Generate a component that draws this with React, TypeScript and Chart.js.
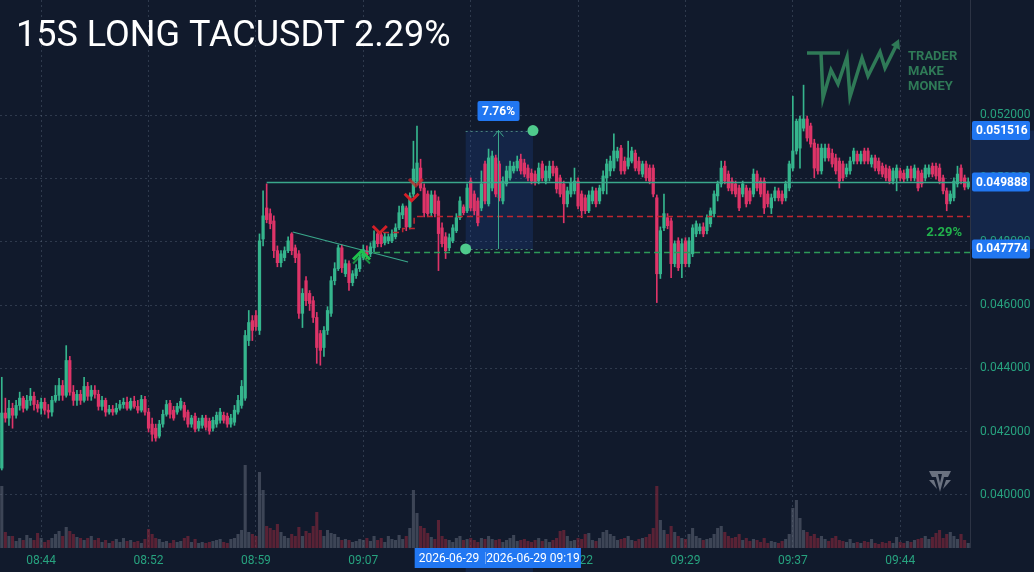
import React, { useEffect, useRef } from "react";
import { Chart, registerables } from "chart.js";

Chart.register(...registerables);

// ---------------- DATA ----------------
// prices are stored in units of 0.00001 USDT
const PRICE_UNIT = 1e-5;
const START_TIME = "08:41:45";
const BAR_SECONDS = 15;
const TICK_INDEX = [11, 41, 71, 101, 131, 161, 191, 221, 251];
const PRICE_TICKS = [0.04, 0.042, 0.044, 0.046, 0.048, 0.05, 0.052];

const OPEN = [
  4085, 4259, 4243, 4274, 4252, 4283, 4306, 4274, 4299, 4312,
  4286, 4274, 4293, 4268, 4262, 4299, 4315, 4346, 4315, 4425,
  4325, 4299, 4318, 4299, 4343, 4312, 4331, 4318, 4280, 4299,
  4262, 4271, 4262, 4274, 4286, 4293, 4274, 4296, 4280, 4268,
  4302, 4262, 4224, 4211, 4186, 4224, 4255, 4290, 4268, 4262,
  4274, 4283, 4262, 4224, 4249, 4211, 4220, 4243, 4233, 4211,
  4224, 4236, 4252, 4249, 4224, 4230, 4262, 4283, 4306, 4488,
  4551, 4567, 4520, 4809, 4907, 4889, 4866, 4772, 4734, 4750,
  4772, 4825, 4781, 4762, 4574, 4677, 4637, 4614, 4561, 4510,
  4466, 4520, 4574, 4677, 4715, 4781, 4699, 4731, 4671, 4693,
  4715, 4750, 4772, 4762, 4781, 4825, 4822, 4797, 4803, 4803,
  4816, 4844, 4885, 4907, 4847, 4951, 4992, 5033, 4970, 4951,
  4892, 4948, 4929, 4844, 4816, 4781, 4803, 4835, 4876, 4910,
  4898, 4992, 4951, 4929, 4907, 5046, 4920, 4970, 5065, 5046,
  4929, 4983, 5002, 5024, 5033, 5061, 5049, 5033, 5017, 5014,
  4992, 5046, 4992, 5002, 5039, 5033, 5002, 4983, 4920, 4951,
  4961, 4992, 4951, 4939, 4898, 4929, 4961, 4929, 4961, 5002,
  5024, 5033, 5065, 5096, 5055, 5039, 5055, 5080, 5055, 5014,
  5046, 5033, 5033, 4939, 4699, 4844, 4876, 4866, 4731, 4803,
  4731, 4803, 4731, 4762, 4825, 4835, 4847, 4835, 4857, 4889,
  4945, 4983, 5039, 5014, 4992, 4983, 4970, 4951, 4970, 4961,
  4951, 5014, 4992, 4992, 4951, 4907, 4939, 4961, 4951, 4939,
  4970, 5033, 5087, 5096, 5159, 5188, 5166, 5112, 5096, 5024,
  5065, 5096, 5080, 5065, 5055, 5046, 5014, 5024, 5055, 5077,
  5055, 5087, 5087, 5046, 5065, 5055, 5039, 5033, 5030, 4992,
  5002, 5024, 5017, 5002, 5030, 5002, 5024, 5017, 5002, 5014,
  5039, 5039, 5033, 5002, 4961, 4929, 4939, 4983, 5033, 5002,
  4973,
];

const HIGH = [
  4372, 4306, 4299, 4290, 4299, 4325, 4312, 4315, 4337, 4325,
  4299, 4306, 4306, 4286, 4312, 4346, 4369, 4362, 4472, 4438,
  4346, 4331, 4331, 4372, 4356, 4346, 4346, 4331, 4312, 4306,
  4283, 4283, 4290, 4299, 4306, 4309, 4306, 4312, 4299, 4315,
  4312, 4274, 4243, 4224, 4236, 4268, 4299, 4299, 4280, 4290,
  4306, 4293, 4268, 4252, 4259, 4243, 4252, 4252, 4243, 4246,
  4262, 4274, 4262, 4259, 4255, 4283, 4315, 4362, 4520, 4583,
  4567, 4583, 4825, 4961, 4983, 4904, 4882, 4787, 4772, 4784,
  4816, 4829, 4790, 4772, 4652, 4690, 4646, 4627, 4577, 4520,
  4532, 4595, 4690, 4734, 4790, 4790, 4743, 4740, 4709, 4728,
  4762, 4790, 4787, 4797, 4835, 4835, 4832, 4829, 4825, 4838,
  4857, 4913, 4920, 4913, 4955, 5118, 5166, 5061, 4983, 4961,
  4961, 4961, 4942, 4860, 4829, 4825, 4854, 4889, 4942, 4917,
  4983, 5002, 4961, 4939, 5024, 5055, 5093, 5087, 5074, 5055,
  5005, 5039, 5055, 5052, 5071, 5077, 5061, 5043, 5030, 5024,
  5049, 5055, 5039, 5055, 5055, 5039, 5011, 4992, 4973, 5002,
  5033, 5002, 4961, 4948, 4961, 4973, 4970, 4979, 5024, 5061,
  5071, 5141, 5099, 5105, 5068, 5118, 5099, 5090, 5068, 5055,
  5055, 5043, 5043, 4948, 4847, 4951, 4889, 4876, 4803, 4813,
  4809, 4813, 4813, 4854, 4866, 4857, 4860, 4885, 4907, 4961,
  4992, 5055, 5055, 5024, 5002, 4992, 4979, 4992, 4979, 4970,
  5030, 5024, 5002, 5002, 4961, 4951, 4973, 4970, 4961, 4992,
  5055, 5260, 5188, 5197, 5295, 5197, 5175, 5124, 5109, 5109,
  5109, 5109, 5093, 5077, 5065, 5055, 5046, 5068, 5096, 5087,
  5087, 5096, 5096, 5074, 5074, 5065, 5049, 5043, 5039, 5033,
  5043, 5033, 5027, 5039, 5039, 5043, 5033, 5027, 5043, 5043,
  5049, 5049, 5046, 5011, 4970, 4961, 5002, 5039, 5043, 5011,
  5002,
];

const LOW = [
  4079, 4230, 4220, 4211, 4243, 4268, 4262, 4268, 4283, 4268,
  4262, 4255, 4255, 4243, 4249, 4293, 4299, 4299, 4309, 4315,
  4283, 4283, 4286, 4293, 4299, 4299, 4306, 4268, 4268, 4249,
  4255, 4252, 4255, 4268, 4274, 4268, 4268, 4274, 4259, 4262,
  4252, 4199, 4170, 4170, 4180, 4214, 4249, 4243, 4236, 4255,
  4268, 4236, 4214, 4214, 4199, 4202, 4211, 4205, 4192, 4202,
  4214, 4227, 4227, 4214, 4214, 4220, 4255, 4274, 4299, 4472,
  4488, 4520, 4507, 4787, 4860, 4841, 4750, 4721, 4721, 4740,
  4766, 4759, 4734, 4558, 4529, 4598, 4583, 4545, 4416, 4410,
  4438, 4507, 4564, 4664, 4709, 4703, 4690, 4646, 4661, 4684,
  4706, 4743, 4747, 4753, 4769, 4784, 4784, 4790, 4794, 4797,
  4809, 4838, 4873, 4835, 4841, 4942, 4979, 4961, 4879, 4879,
  4882, 4879, 4709, 4784, 4747, 4772, 4797, 4829, 4870, 4885,
  4892, 4898, 4885, 4850, 4898, 4920, 4913, 4961, 4942, 4929,
  4920, 4976, 4995, 5017, 5024, 5014, 5005, 4992, 4983, 4979,
  4983, 4992, 4983, 4992, 5008, 4954, 4942, 4860, 4910, 4942,
  4951, 4904, 4876, 4889, 4892, 4920, 4910, 4920, 4951, 4951,
  5008, 5024, 5055, 5014, 5014, 5030, 5049, 5024, 5014, 5005,
  4992, 4983, 4942, 4608, 4684, 4835, 4841, 4687, 4721, 4709,
  4687, 4721, 4721, 4753, 4816, 4825, 4816, 4825, 4847, 4879,
  4929, 4973, 4983, 4961, 4951, 4942, 4898, 4942, 4910, 4920,
  4942, 4961, 4942, 4889, 4910, 4889, 4929, 4929, 4920, 4929,
  4961, 5024, 5077, 5033, 5150, 5118, 5099, 5002, 5014, 5014,
  5055, 5055, 5036, 5014, 4970, 4992, 5005, 5014, 5046, 5046,
  5046, 5046, 5046, 5036, 5024, 5014, 5005, 4992, 4983, 4983,
  4961, 4992, 4989, 4992, 4992, 4992, 4961, 4973, 4992, 5005,
  5005, 4998, 4983, 4951, 4898, 4920, 4929, 4973, 4983, 4964,
  4967,
];

const CLOSE = [
  4259, 4243, 4274, 4252, 4283, 4306, 4274, 4299, 4312, 4286,
  4274, 4293, 4268, 4262, 4299, 4315, 4346, 4315, 4425, 4325,
  4299, 4318, 4299, 4343, 4312, 4331, 4318, 4280, 4299, 4262,
  4271, 4262, 4274, 4286, 4293, 4274, 4296, 4280, 4268, 4302,
  4262, 4211, 4192, 4180, 4224, 4255, 4286, 4255, 4243, 4280,
  4296, 4246, 4224, 4243, 4208, 4233, 4243, 4214, 4202, 4236,
  4252, 4262, 4236, 4224, 4243, 4268, 4299, 4343, 4504, 4545,
  4520, 4532, 4803, 4882, 4870, 4857, 4772, 4734, 4762, 4772,
  4803, 4772, 4750, 4574, 4637, 4614, 4605, 4561, 4466, 4457,
  4520, 4583, 4677, 4715, 4781, 4718, 4731, 4671, 4699, 4715,
  4750, 4775, 4759, 4784, 4803, 4794, 4794, 4816, 4816, 4825,
  4844, 4892, 4913, 4847, 4945, 5030, 5049, 4970, 4892, 4889,
  4948, 4889, 4826, 4794, 4772, 4813, 4844, 4876, 4929, 4892,
  4970, 4907, 4898, 4860, 4983, 4929, 5065, 5071, 4951, 4939,
  4992, 5024, 5039, 5039, 5055, 5024, 5014, 5002, 4992, 4989,
  5033, 5002, 5024, 5039, 5017, 4967, 4951, 4920, 4961, 4986,
  4992, 4913, 4898, 4898, 4948, 4961, 4920, 4970, 5008, 5046,
  5055, 5087, 5087, 5024, 5024, 5065, 5087, 5033, 5024, 5046,
  5002, 4992, 4951, 4699, 4835, 4889, 4851, 4731, 4794, 4718,
  4794, 4731, 4803, 4844, 4857, 4847, 4825, 4876, 4898, 4951,
  4983, 5033, 4992, 4970, 4961, 4951, 4907, 4983, 4920, 4929,
  5014, 4970, 4951, 4907, 4920, 4939, 4961, 4939, 4929, 4983,
  5046, 5087, 5181, 5188, 5188, 5128, 5109, 5033, 5024, 5096,
  5096, 5065, 5046, 5024, 4992, 5002, 5033, 5055, 5087, 5055,
  5077, 5055, 5055, 5065, 5033, 5024, 5014, 5002, 4992, 5024,
  5033, 5002, 4998, 5030, 5002, 5033, 4970, 4983, 5033, 5033,
  5014, 5008, 4992, 4961, 4920, 4951, 4992, 5014, 4992, 4973,
  4989,
];

// volume in thousands of TAC
const VOLUME = [
  62, 16, 12, 12, 7, 10, 8, 13, 10, 8,
  15, 10, 6, 8, 10, 14, 17, 12, 21, 17,
  14, 11, 10, 8, 10, 12, 8, 10, 6, 8,
  5, 7, 9, 6, 10, 7, 8, 6, 7, 5,
  9, 19, 14, 10, 9, 6, 7, 5, 8, 6,
  7, 10, 12, 6, 9, 5, 6, 5, 6, 7,
  8, 9, 6, 5, 9, 10, 14, 18, 83, 16,
  14, 12, 76, 58, 22, 20, 18, 24, 16, 12,
  10, 14, 12, 21, 12, 17, 15, 22, 36, 18,
  12, 18, 15, 14, 11, 8, 9, 8, 6, 7,
  9, 8, 10, 7, 12, 8, 10, 6, 12, 9,
  8, 13, 9, 12, 20, 58, 35, 22, 20, 15,
  11, 9, 28, 12, 9, 8, 6, 10, 12, 8,
  9, 10, 8, 6, 10, 9, 12, 9, 8, 9,
  6, 8, 10, 13, 7, 8, 9, 7, 6, 8,
  10, 7, 9, 6, 8, 10, 17, 18, 12, 7,
  8, 10, 9, 14, 15, 8, 7, 10, 16, 18,
  14, 12, 8, 9, 10, 12, 8, 7, 9, 10,
  11, 14, 20, 62, 28, 18, 14, 22, 16, 12,
  10, 9, 14, 20, 12, 10, 8, 9, 10, 14,
  20, 22, 16, 12, 10, 11, 14, 8, 10, 7,
  9, 8, 6, 10, 5, 7, 6, 5, 7, 9,
  14, 40, 48, 30, 18, 16, 12, 14, 10, 12,
  9, 7, 10, 12, 8, 7, 6, 9, 5, 6,
  5, 7, 6, 9, 5, 4, 6, 5, 7, 5,
  11, 6, 5, 7, 6, 8, 9, 10, 12, 9,
  11, 15, 18, 10, 14, 16, 12, 9, 14, 8,
  5,
];

// trade / drawing values (in price and bar-index coordinates)
const TITLE = "15S LONG TACUSDT 2.29%";
const TAKE_PROFIT = 0.051516;
const LEVEL_PRICE = 0.049888;
const ENTRY_PRICE = 0.047774;
const LEVEL_START = 74;
const BOX_START = 129.6;
const BOX_END = 148.4;
const ARROW_INDEX = 138.6;
const BOX_PCT = "7.76%";
const RESULT_PCT = "2.29%";
const STOP_IDX = [106.5, 112, 112, 115.2, 115.2, 270.5];
const STOP_PRICE = [0.04831, 0.04831, 0.04845, 0.04845, 0.0488, 0.0488];
const ENTRY_LINE_START = 104;
const ENTRY_LINE_PRICE = 0.047678;
const TREND_IDX = [81.3, 113.5];
const TREND_PRICE = [0.04831, 0.047362];
const BUY_IDX = [100.5];
const BUY_PRICE = [0.047709];
const SELL_IDX = [105.6, 114.5, 115.7];
const SELL_PRICE = [0.048278, 0.049299, 0.049763];
const DATE_LABELS = ["2026-06-29 09:14", "2026-06-29 09:19"];

const Y_MIN = 0.0383254;
const Y_MAX = 0.0556398;
const VOL_AXIS_MAX = 548;

// ---------------- STYLE ----------------
const FONT = "Roboto, 'Noto Sans', sans-serif";
const BG = "#111a2c";
const UP = "#35b58d";
const DOWN = "#de3468";
const UP_VOL = "rgba(98,106,122,0.55)";
const DOWN_VOL = "rgba(150,42,62,0.55)";
const AXIS_TEXT = "#27a27f";
const GRID = "rgba(120,132,155,0.30)";
const BLUE = "#2177f2";
const TEAL = "#3aa88b";
const LOGO = "#2f7a57";

function makeTimes(n: number): string[] {
  const [h, m, s] = START_TIME.split(":").map(Number);
  const base = h * 3600 + m * 60 + s;
  const out: string[] = [];
  for (let i = 0; i < n; i++) {
    const t = base + i * BAR_SECONDS;
    const hh = String(Math.floor(t / 3600)).padStart(2, "0");
    const mm = String(Math.floor((t % 3600) / 60)).padStart(2, "0");
    const ss = String(t % 60).padStart(2, "0");
    out.push(`${hh}:${mm}:${ss}`);
  }
  return out;
}

function rrect(ctx: CanvasRenderingContext2D, x: number, y: number, w: number, h: number, r: number) {
  ctx.beginPath();
  ctx.moveTo(x + r, y);
  ctx.lineTo(x + w - r, y);
  ctx.quadraticCurveTo(x + w, y, x + w, y + r);
  ctx.lineTo(x + w, y + h - r);
  ctx.quadraticCurveTo(x + w, y + h, x + w - r, y + h);
  ctx.lineTo(x + r, y + h);
  ctx.quadraticCurveTo(x, y + h, x, y + h - r);
  ctx.lineTo(x, y + r);
  ctx.quadraticCurveTo(x, y, x + r, y);
  ctx.closePath();
}

function chevron(ctx: CanvasRenderingContext2D, x: number, y: number, w: number, h: number, dir: number) {
  ctx.beginPath();
  ctx.moveTo(x - w / 2, y + dir * h);
  ctx.lineTo(x, y);
  ctx.lineTo(x + w / 2, y + dir * h);
  ctx.stroke();
}

const overlay = {
  id: "overlay",
  beforeDraw(chart: any) {
    const { ctx, chartArea: a, width, height } = chart;
    const X = chart.scales.x;
    const Y = chart.scales.y;
    ctx.save();
    ctx.fillStyle = BG;
    ctx.fillRect(0, 0, width, height);
    const yT = Y.getPixelForValue(TAKE_PROFIT);
    const yE = Y.getPixelForValue(ENTRY_PRICE);
    ctx.fillStyle = "rgba(35,100,220,0.17)";
    ctx.fillRect(a.right, yT, width - a.right, yE - yT);
    const x0 = X.getPixelForValue(BOX_START);
    const x1 = X.getPixelForValue(BOX_END);
    ctx.fillRect(x0, a.bottom, x1 - x0, height - a.bottom);
    ctx.restore();
  },
  beforeDatasetsDraw(chart: any) {
    const { ctx } = chart;
    const X = chart.scales.x;
    const Y = chart.scales.y;
    const x0 = X.getPixelForValue(BOX_START);
    const x1 = X.getPixelForValue(BOX_END);
    const yT = Y.getPixelForValue(TAKE_PROFIT);
    const yE = Y.getPixelForValue(ENTRY_PRICE);
    ctx.save();
    ctx.fillStyle = "rgba(35,100,220,0.16)";
    ctx.fillRect(x0, yT, x1 - x0, yE - yT);
    ctx.restore();
  },
  afterDatasetsDraw(chart: any) {
    const { ctx, chartArea: a } = chart;
    const X = chart.scales.x;
    const Y = chart.scales.y;
    ctx.save();
    ctx.beginPath();
    ctx.rect(a.left, a.top, a.right - a.left, a.bottom - a.top);
    ctx.clip();

    // horizontal level line
    const yL = Math.round(Y.getPixelForValue(LEVEL_PRICE)) + 0.5;
    ctx.strokeStyle = TEAL;
    ctx.lineWidth = 1.5;
    ctx.beginPath();
    ctx.moveTo(X.getPixelForValue(LEVEL_START), yL);
    ctx.lineTo(a.right, yL);
    ctx.stroke();

    // trend line
    ctx.lineWidth = 1.2;
    ctx.beginPath();
    ctx.moveTo(X.getPixelForValue(TREND_IDX[0]), Y.getPixelForValue(TREND_PRICE[0]));
    ctx.lineTo(X.getPixelForValue(TREND_IDX[1]), Y.getPixelForValue(TREND_PRICE[1]));
    ctx.stroke();

    // stop step line
    ctx.strokeStyle = "#c0262f";
    ctx.lineWidth = 1.5;
    ctx.setLineDash([6, 4]);
    ctx.beginPath();
    STOP_IDX.forEach((ix, k) => {
      const px = X.getPixelForValue(ix);
      const py = Math.round(Y.getPixelForValue(STOP_PRICE[k])) + 0.5;
      if (k === 0) ctx.moveTo(px, py);
      else ctx.lineTo(px, py);
    });
    ctx.stroke();

    // entry dashed line
    ctx.strokeStyle = "#2e9a57";
    const yG = Math.round(Y.getPixelForValue(ENTRY_LINE_PRICE)) + 0.5;
    ctx.beginPath();
    ctx.moveTo(X.getPixelForValue(ENTRY_LINE_START), yG);
    ctx.lineTo(a.right, yG);
    ctx.stroke();

    // position box
    const x0 = X.getPixelForValue(BOX_START);
    const x1 = X.getPixelForValue(BOX_END);
    const yT = Y.getPixelForValue(TAKE_PROFIT);
    const yE = Y.getPixelForValue(ENTRY_PRICE);
    ctx.setLineDash([2, 3]);
    ctx.lineWidth = 1;
    ctx.strokeStyle = "rgba(90,160,140,0.75)";
    ctx.beginPath();
    ctx.moveTo(x0, Math.round(yT) + 0.5);
    ctx.lineTo(x1, Math.round(yT) + 0.5);
    ctx.moveTo(x0, Math.round(yE) + 0.5);
    ctx.lineTo(x1, Math.round(yE) + 0.5);
    ctx.stroke();
    ctx.setLineDash([]);

    // arrow
    const xa = Math.round(X.getPixelForValue(ARROW_INDEX)) + 0.5;
    ctx.strokeStyle = TEAL;
    ctx.lineWidth = 1;
    ctx.beginPath();
    ctx.moveTo(xa, yE);
    ctx.lineTo(xa, yT);
    ctx.moveTo(xa - 5, yT + 6);
    ctx.lineTo(xa, yT);
    ctx.lineTo(xa + 5, yT + 6);
    ctx.stroke();

    // dots
    ctx.fillStyle = "#4fca8c";
    ctx.beginPath();
    ctx.arc(x1, yT, 5.5, 0, Math.PI * 2);
    ctx.fill();
    ctx.beginPath();
    ctx.arc(x0, yE, 5.5, 0, Math.PI * 2);
    ctx.fill();

    // signals
    ctx.lineCap = "butt";
    ctx.lineJoin = "miter";
    BUY_IDX.forEach((ix, k) => {
      const px = X.getPixelForValue(ix);
      const py = Y.getPixelForValue(BUY_PRICE[k]);
      ctx.strokeStyle = "#1fc24d";
      ctx.lineWidth = 3;
      chevron(ctx, px, py, 17, 8.5, 1);
      ctx.strokeStyle = "rgba(31,194,77,0.7)";
      ctx.lineWidth = 2;
      chevron(ctx, px, py + 4, 17, 8.5, 1);
    });
    SELL_IDX.forEach((ix, k) => {
      const px = X.getPixelForValue(ix);
      const py = Y.getPixelForValue(SELL_PRICE[k]);
      ctx.strokeStyle = k === 2 ? "rgba(200,40,40,0.75)" : "#d41f27";
      ctx.lineWidth = 3;
      chevron(ctx, px, py, 14, 7, -1);
    });

    // result label
    const yS = Y.getPixelForValue(STOP_PRICE[STOP_PRICE.length - 1]);
    ctx.fillStyle = "#22b24c";
    ctx.font = `bold 13px ${FONT}`;
    ctx.textAlign = "right";
    ctx.textBaseline = "middle";
    ctx.fillText(RESULT_PCT, a.right - 8, (yS + yG) / 2 - 1.5);
    ctx.restore();

    // 7.76% label
    ctx.save();
    ctx.fillStyle = BLUE;
    rrect(ctx, xa - 21, yT - 29.5, 42, 20, 2);
    ctx.fill();
    ctx.fillStyle = "#ffffff";
    ctx.font = `bold 12px ${FONT}`;
    ctx.textAlign = "center";
    ctx.textBaseline = "middle";
    ctx.fillText(BOX_PCT, xa, yT - 19);
    ctx.restore();
  },
  afterDraw(chart: any) {
    const { ctx, chartArea: a } = chart;
    const X = chart.scales.x;
    const Y = chart.scales.y;
    ctx.save();
    // right axis border
    ctx.strokeStyle = "#2c3344";
    ctx.lineWidth = 1;
    ctx.beginPath();
    ctx.moveTo(a.right + 0.5, 0);
    ctx.lineTo(a.right + 0.5, a.bottom);
    ctx.stroke();

    // price labels
    [TAKE_PROFIT, LEVEL_PRICE, ENTRY_PRICE].forEach((p) => {
      const y = Y.getPixelForValue(p);
      ctx.fillStyle = BLUE;
      rrect(ctx, a.right + 2, y - 9.5, 58, 19, 2);
      ctx.fill();
      ctx.fillStyle = "#ffffff";
      ctx.font = `bold 12px ${FONT}`;
      ctx.textAlign = "left";
      ctx.textBaseline = "middle";
      ctx.fillText(p.toFixed(6), a.right + 6, y + 0.5);
    });

    // date labels on time axis
    const xs = [X.getPixelForValue(BOX_START), X.getPixelForValue(BOX_END)];
    const ws = [102, 96];
    const secondLeft = xs[1] - ws[1] / 2;
    xs.forEach((x, k) => {
      ctx.save();
      if (k === 0) {
        ctx.beginPath();
        ctx.rect(0, a.bottom, secondLeft, 30);
        ctx.clip();
      }
      ctx.fillStyle = BLUE;
      ctx.fillRect(x - ws[k] / 2, a.bottom, ws[k], 20);
      ctx.fillStyle = "#ffffff";
      ctx.font = `12px ${FONT}`;
      if (k === 0) {
        ctx.textAlign = "left";
        ctx.textBaseline = "middle";
        ctx.fillText(DATE_LABELS[k].slice(0, 10), x - ws[k] / 2 + 4, a.bottom + 10.5);
      } else {
        ctx.textAlign = "center";
        ctx.textBaseline = "middle";
        ctx.fillText(DATE_LABELS[k], x, a.bottom + 10.5);
        ctx.fillStyle = "rgba(255,255,255,0.35)";
        ctx.fillRect(secondLeft, a.bottom + 4, 1, 12);
      }
      ctx.restore();
    });

    // title
    ctx.fillStyle = "#ffffff";
    ctx.font = `36px ${FONT}`;
    ctx.textAlign = "left";
    ctx.textBaseline = "alphabetic";
    ctx.fillText(TITLE, 16, 46);

    // logo mark
    ctx.strokeStyle = LOGO;
    ctx.lineWidth = 3.5;
    ctx.lineJoin = "miter";
    ctx.beginPath();
    ctx.moveTo(807, 53);
    ctx.lineTo(840, 53);
    ctx.moveTo(821, 53);
    ctx.lineTo(823, 98);
    ctx.lineTo(831, 70);
    ctx.lineTo(838, 84);
    ctx.lineTo(847, 57);
    ctx.lineTo(850, 97);
    ctx.lineTo(862, 58);
    ctx.lineTo(868, 76);
    ctx.lineTo(880, 52);
    ctx.lineTo(885, 68);
    ctx.lineTo(897, 44);
    ctx.stroke();
    ctx.fillStyle = LOGO;
    ctx.beginPath();
    ctx.moveTo(899, 39);
    ctx.lineTo(900, 50);
    ctx.lineTo(891, 45);
    ctx.closePath();
    ctx.fill();
    ctx.font = `bold 13px ${FONT}`;
    ctx.textBaseline = "alphabetic";
    ctx.fillText("TRADER", 908, 60);
    ctx.fillText("MAKE", 908, 75);
    ctx.fillText("MONEY", 908, 90);

    // corner icon
    ctx.fillStyle = "#6b7280";
    ctx.beginPath();
    ctx.moveTo(929, 471);
    ctx.lineTo(951, 471);
    ctx.lineTo(948, 477);
    ctx.lineTo(944, 477);
    ctx.lineTo(940, 492);
    ctx.lineTo(936, 477);
    ctx.lineTo(932, 477);
    ctx.closePath();
    ctx.fill();
    ctx.fillStyle = BG;
    ctx.beginPath();
    ctx.moveTo(938, 474);
    ctx.lineTo(942, 474);
    ctx.lineTo(940, 483);
    ctx.closePath();
    ctx.fill();
    ctx.fillStyle = "#6b7280";
    ctx.beginPath();
    ctx.moveTo(929, 480);
    ctx.lineTo(934, 480);
    ctx.lineTo(937, 489);
    ctx.closePath();
    ctx.fill();
    ctx.beginPath();
    ctx.moveTo(951, 480);
    ctx.lineTo(946, 480);
    ctx.lineTo(943, 489);
    ctx.closePath();
    ctx.fill();
    ctx.restore();
  },
};

export default function App() {
  const ref = useRef<HTMLCanvasElement | null>(null);

  useEffect(() => {
    if (!ref.current) return;
    Chart.defaults.font.family = FONT;
    const n = CLOSE.length;
    const labels = makeTimes(n);
    const up = CLOSE.map((c, i) => c >= OPEN[i]);
    const bodies = CLOSE.map((c, i) => [OPEN[i] * PRICE_UNIT, c * PRICE_UNIT]);
    const wicks = CLOSE.map((c, i) => [
      Math.min(LOW[i], OPEN[i], c) * PRICE_UNIT,
      Math.max(HIGH[i], OPEN[i], c) * PRICE_UNIT,
    ]);
    const colors = up.map((u) => (u ? UP : DOWN));
    const volColors = up.map((u) => (u ? UP_VOL : DOWN_VOL));

    const chart = new Chart(ref.current, {
      type: "bar",
      data: {
        labels,
        datasets: [
          {
            label: "body",
            data: bodies as any,
            backgroundColor: colors,
            barThickness: 2.6,
            minBarLength: 1,
            grouped: false,
            order: 1,
            yAxisID: "y",
            borderWidth: 0,
          } as any,
          {
            label: "wick",
            data: wicks as any,
            backgroundColor: colors,
            barThickness: 1,
            grouped: false,
            order: 2,
            yAxisID: "y",
            borderWidth: 0,
          } as any,
          {
            label: "volume",
            data: VOLUME,
            backgroundColor: volColors,
            barPercentage: 0.86,
            categoryPercentage: 1,
            grouped: false,
            order: 3,
            yAxisID: "yv",
            borderWidth: 0,
          } as any,
        ],
      },
      options: {
        responsive: false,
        animation: false,
        devicePixelRatio: 1,
        events: [],
        layout: { padding: 0 },
        plugins: {
          legend: { display: false },
          tooltip: { enabled: false },
        },
        scales: {
          x: {
            type: "category",
            offset: true,
            grid: {
              display: true,
              offset: false,
              color: GRID,
              drawTicks: false,
              borderDash: [2, 3],
            } as any,
            border: { display: false, dash: [2, 3] },
            ticks: {
              autoSkip: false,
              maxRotation: 0,
              color: AXIS_TEXT,
              font: { size: 12, family: FONT },
              padding: 6,
              callback: (v: any) => String(labels[Number(v)]).slice(0, 5),
            },
            afterBuildTicks: (s: any) => {
              s.ticks = TICK_INDEX.map((v) => ({ value: v }));
            },
            afterFit: (s: any) => {
              s.height = 24;
              s.paddingLeft = 0;
              s.paddingRight = 0;
            },
          } as any,
          y: {
            position: "right",
            min: Y_MIN,
            max: Y_MAX,
            grid: { color: GRID, drawTicks: false, borderDash: [2, 3] } as any,
            border: { display: false, dash: [2, 3] },
            ticks: {
              color: AXIS_TEXT,
              font: { size: 12, family: FONT },
              padding: 10,
              callback: (v: any) => Number(v).toFixed(6),
            },
            afterBuildTicks: (s: any) => {
              s.ticks = PRICE_TICKS.map((v) => ({ value: v }));
            },
            afterFit: (s: any) => {
              s.width = 64;
              s.paddingTop = 0;
              s.paddingBottom = 0;
            },
          } as any,
          yv: { display: false, min: 0, max: VOL_AXIS_MAX },
        },
      } as any,
      plugins: [overlay as any],
    });
    return () => chart.destroy();
  }, []);

  return (
    <div style={{ position: "fixed", left: 0, top: 0, width: 1034, height: 572, background: BG }}>
      <canvas ref={ref} width={1034} height={572} style={{ display: "block", width: 1034, height: 572 }} />
    </div>
  );
}
